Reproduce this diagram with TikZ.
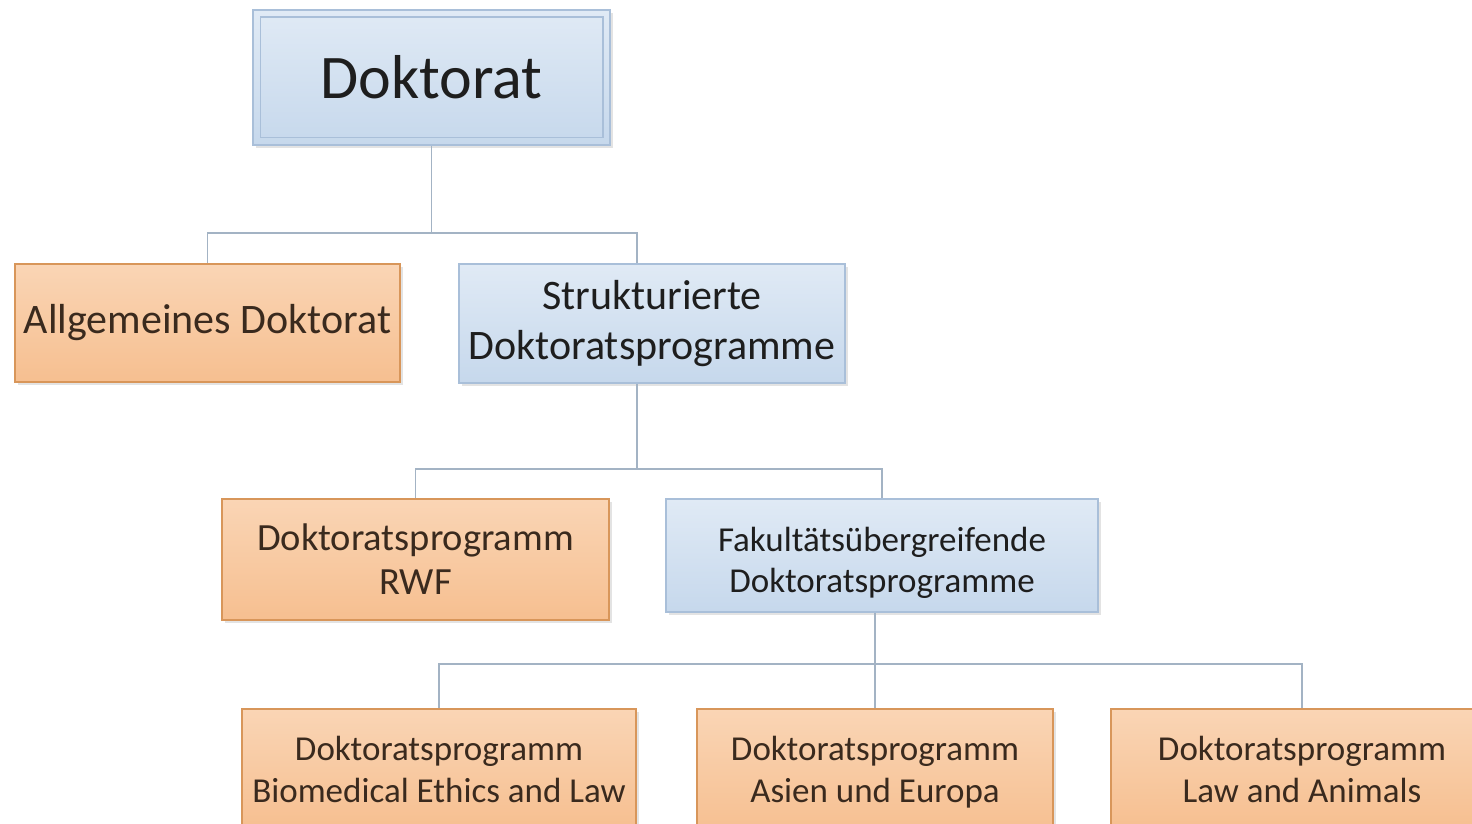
\documentclass[tikz,border=0pt]{standalone}
\usepackage{fontspec}
\setmainfont{Carlito}
\usetikzlibrary{shadows}

\definecolor{boxblueA}{HTML}{E0EAF5}
\definecolor{boxblueB}{HTML}{C6D8EC}
\definecolor{lineblue}{HTML}{A9BFD9}
\definecolor{boxorA}{HTML}{FAD5B5}
\definecolor{boxorB}{HTML}{F6BF90}
\definecolor{lineor}{HTML}{D8965A}
\definecolor{linkgray}{HTML}{A3B3C4}
\definecolor{textdark}{HTML}{1E1E1E}
\definecolor{textbrown}{HTML}{3A2A1E}

\tikzset{
  chartbox/.style={rectangle, line width=1.5pt, align=center, inner sep=0pt,
    drop shadow={opacity=0.22, shadow xshift=3pt, shadow yshift=-3pt}},
  bluebox/.style={chartbox, draw=lineblue, top color=boxblueA, bottom color=boxblueB, text=textdark},
  orangebox/.style={chartbox, draw=lineor, top color=boxorA, bottom color=boxorB, text=textbrown},
  link/.style={draw=linkgray, line width=1.5pt}
}

\begin{document}
\begin{tikzpicture}[x=1pt, y=-1pt]
\useasboundingbox (0,0) rectangle (1472,824);

% Top level
\node[bluebox, minimum width=357pt, minimum height=135pt,
  font=\fontsize{62}{70}\selectfont] (top) at (431.5,77.5) {Doktorat};
\draw[draw=lineblue, line width=1.5pt] ([shift={(8,8)}]top.north west) rectangle ([shift={(-8,-8)}]top.south east);

% Second level
\node[orangebox, minimum width=385pt, minimum height=118pt,
  font=\fontsize{42}{50}\selectfont] (allg) at (207.5,323) {Allgemeines Doktorat};
\node[bluebox, minimum width=386pt, minimum height=119pt,
  font=\fontsize{42}{50}\selectfont] (strukt) at (652,323.5) {Strukturierte\\ Doktoratsprogramme};

% Third level
\node[orangebox, minimum width=387pt, minimum height=121pt,
  font=\fontsize{38.5}{44}\selectfont] (rwf) at (415.5,559.5) {Doktoratsprogramm\\ RWF};
\node[bluebox, minimum width=432pt, minimum height=113pt,
  font=\fontsize{35}{41}\selectfont] (fak) at (882,555.5)
  {\rule{0pt}{40pt}Fakultätsübergreifende\\ Doktoratsprogramme};

% Fourth level
\node[orangebox, minimum width=394pt, minimum height=120pt,
  font=\fontsize{35}{42}\selectfont] (bio) at (439,769) {Doktoratsprogramm\\ Biomedical Ethics and Law};
\node[orangebox, minimum width=356pt, minimum height=126pt,
  font=\fontsize{35}{42}\selectfont] (asien) at (875,772) {Doktoratsprogramm\\ Asien und Europa};
\node[orangebox, minimum width=382pt, minimum height=120pt,
  font=\fontsize{35}{42}\selectfont] (animals) at (1302,769) {Doktoratsprogramm\\ Law and Animals};

% Connectors
\coordinate (j1) at (431.5,233);
\coordinate (j2) at (637,469);
\coordinate (j3) at (875,664);
\path[link] (top.south) -- (j1) -| (allg.north);
\path[link] (j1) -| ([xshift=-15pt]strukt.north);
\path[link] ([xshift=-15pt]strukt.south) -- (j2) -| (rwf.north);
\path[link] (j2) -| (fak.north);
\path[link] ([xshift=-7pt]fak.south) -- (j3) -| (bio.north);
\path[link] (j3) -- (asien.north);
\path[link] (j3) -| (animals.north);
\end{tikzpicture}
\end{document}
